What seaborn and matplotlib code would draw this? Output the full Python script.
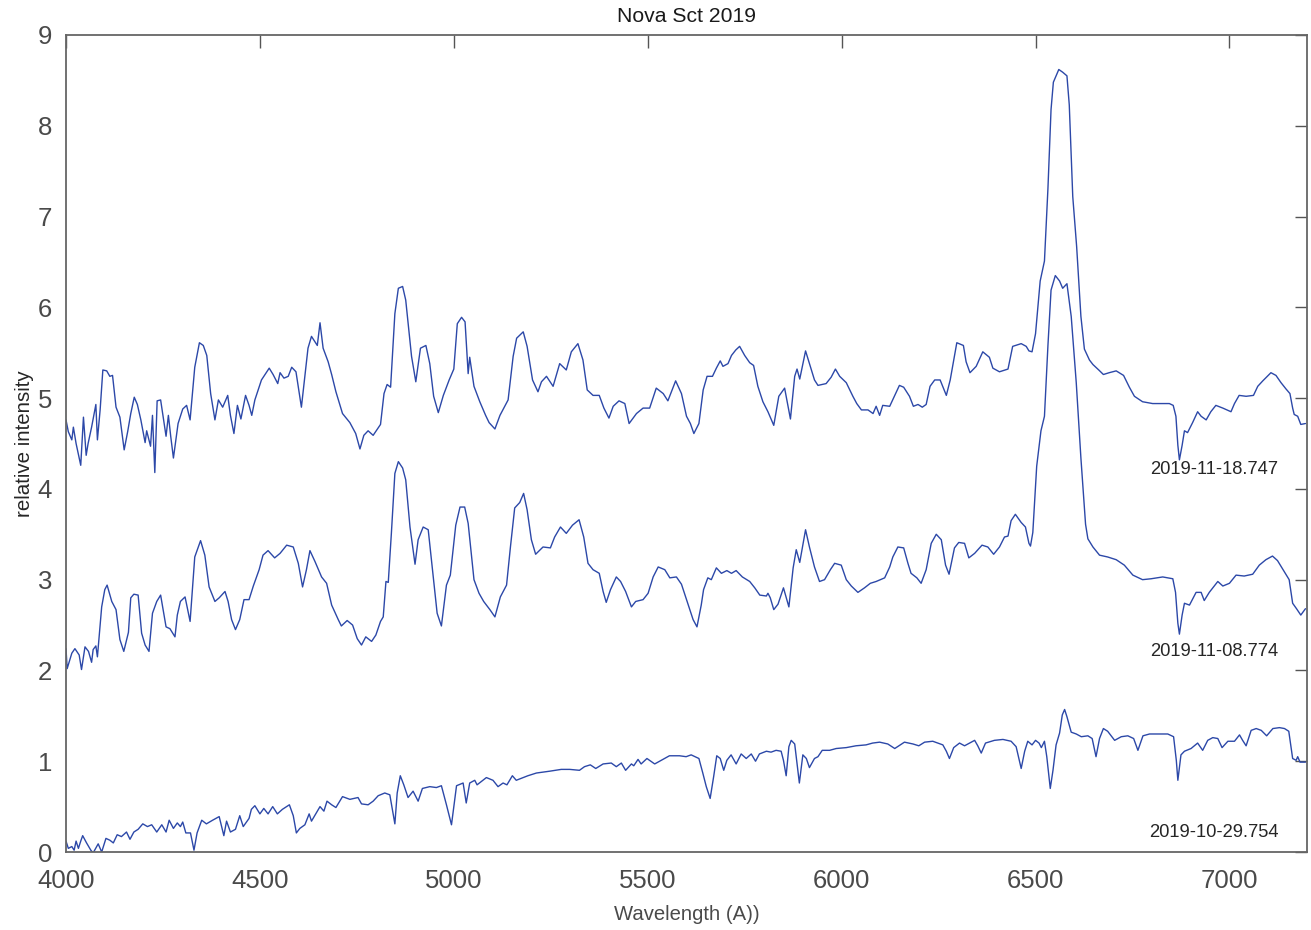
import matplotlib
matplotlib.use("Agg")
import matplotlib.pyplot as plt
import seaborn as sns
import pandas as pd

# ---- Spectrum 2019-11-18.747 (upper) ----
wl_1118 = [4000,4006,4015,4019,4026,4038,4045,4052,4057,4066,4077,4081,4088,4095,4105,4113,4120,4129,4139,4150,
           4159,4167,4176,4184,4193,4204,4208,4218,4223,4229,4235,4244,4258,4264,4270,4277,4289,4301,4311,4320,
           4332,4344,4354,4363,4373,4384,4393,4404,4417,4424,4433,4442,4451,4463,4472,4479,4487,4504,4524,4534,
           4546,4552,4562,4573,4582,4593,4607,4624,4633,4648,4655,4663,4676,4685,4696,4713,4732,4747,4758,4768,
           4779,4792,4811,
           4820,4828,4837,4848,4857,4868,4876,4891,4902,4914,4928,4938,4948,4960,4973,4988,5000,5009,5020,5029,
           5037,5041,5052,5067,5082,5091,5106,5119,5140,5153,5162,5179,5189,5203,5217,5226,5239,5256,5273,5290,
           5303,5320,5333,5344,5359,5375,5387,5400,5411,5426,5441,5452,5471,5488,5505,5522,5540,5552,5572,5587,
           5600,5610,5619,5632,
           5643,5653,5667,5677,5687,5694,5707,5716,5727,5737,5750,5763,5773,5784,5797,5810,5825,5838,5853,5868,
           5879,5885,5892,5907,5917,5930,5939,5960,5973,5984,5995,6012,6029,6039,6051,6068,6081,6089,6098,6106,
           6124,6137,6149,6160,6175,6185,6197,6208,6218,6228,6240,6254,6270,6280,6289,6297,6314,6321,6331,6347,
           6364,6381,6390,6407,6429,6441,6463,6476,6483,
           6491,6500,6512,6523,6532,6540,6546,6560,6570,6581,6587,6596,6606,6617,6626,6639,6648,6663,6675,6690,
           6708,6727,6742,6755,6776,6802,6828,6845,6855,6862,6867,6871,6878,6884,6892,6905,6918,6927,6940,6952,
           6965,6983,7004,7013,7025,7043,7062,7073,7086,7107,7120,7133,7146,7156,7163,7167,7176,7184,7196]
int_1118 = [4.76,4.63,4.54,4.68,4.50,4.26,4.79,4.37,4.50,4.68,4.93,4.54,4.87,5.31,5.30,5.24,5.25,4.90,4.79,4.43,
            4.63,4.83,5.01,4.93,4.76,4.51,4.64,4.47,4.81,4.18,4.97,4.98,4.58,4.81,4.58,4.34,4.72,4.88,4.92,4.76,
            5.34,5.61,5.58,5.47,5.05,4.76,4.98,4.90,5.03,4.81,4.61,4.92,4.77,5.03,4.92,4.81,4.98,5.20,5.33,5.26,
            5.16,5.28,5.22,5.24,5.34,5.29,4.90,5.55,5.68,5.58,5.83,5.55,5.40,5.26,5.07,4.83,4.73,4.61,4.44,4.59,
            4.64,4.59,4.71,
            5.05,5.15,5.12,5.93,6.21,6.23,6.08,5.46,5.18,5.55,5.58,5.38,5.02,4.84,5.03,5.20,5.32,5.82,5.89,5.84,
            5.27,5.45,5.13,4.96,4.81,4.73,4.66,4.81,4.98,5.46,5.66,5.73,5.57,5.20,5.07,5.18,5.24,5.13,5.38,5.31,
            5.51,5.60,5.42,5.09,5.03,5.03,4.89,4.78,4.91,4.97,4.94,4.72,4.83,4.89,4.89,5.11,5.05,4.97,5.19,5.05,
            4.80,4.72,4.61,4.72,
            5.09,5.24,5.24,5.33,5.41,5.35,5.38,5.47,5.53,5.57,5.47,5.39,5.36,5.13,4.96,4.85,4.70,5.02,5.11,4.77,
            5.24,5.32,5.21,5.52,5.38,5.20,5.14,5.16,5.23,5.32,5.24,5.17,5.02,4.94,4.87,4.87,4.83,4.91,4.81,4.92,
            4.91,5.03,5.14,5.12,5.02,4.91,4.93,4.90,4.93,5.13,5.20,5.20,5.03,5.20,5.42,5.61,5.58,5.40,5.28,5.35,
            5.51,5.45,5.33,5.29,5.32,5.57,5.60,5.57,5.52,
            5.51,5.71,6.29,6.51,7.31,8.18,8.48,8.62,8.59,8.55,8.23,7.22,6.67,5.90,5.54,5.42,5.37,5.31,5.26,5.28,
            5.30,5.25,5.12,5.02,4.96,4.94,4.94,4.94,4.92,4.80,4.48,4.32,4.48,4.64,4.62,4.73,4.85,4.80,4.76,4.85,
            4.92,4.89,4.85,4.94,5.03,5.02,5.03,5.13,5.19,5.28,5.25,5.17,5.10,5.05,4.89,4.82,4.80,4.71,4.72]

# ---- Spectrum 2019-11-08.774 (middle) ----
wl_1108 = [4000,4003,4015,4023,4034,4040,4049,4058,4066,4070,4077,4081,4092,4100,4106,4118,4129,4139,4149,4161,
           4167,4175,4186,4195,4204,4214,4223,4234,4244,4258,4268,4281,4287,4295,4307,4320,4332,4347,4358,4369,
           4384,4395,4410,4418,4427,4437,4448,4459,4472,4483,4498,4508,4521,4538,4552,4569,4586,4599,4610,4620,
           4629,4642,4659,4672,4685,4702,4710,4725,4739,4751,4762,4773,4788,4799,4811,
           4818,4825,4831,4839,4848,4857,4868,4876,4887,4900,4908,4921,4934,4945,4957,4968,4981,4991,5005,5016,
           5028,5037,5052,5065,5077,5093,5106,5120,5136,5146,5157,5170,5180,5189,5200,5211,5230,5249,5260,5275,
           5290,5306,5323,5335,5346,5359,5375,5385,5393,5404,5419,5430,5443,5458,5469,5488,5501,5514,5527,5544,
           5557,5574,5587,5604,5617,5627,5638,
           5644,5655,5664,5677,5690,5704,5716,5728,5744,5763,5776,5789,5806,5810,5816,5825,5836,5850,5864,5875,
           5883,5892,5907,5917,5930,5943,5956,5971,5982,5999,6012,6025,6042,6059,6074,6089,6111,6124,6132,6145,
           6160,6171,6179,6194,6205,6218,6231,6244,6257,6268,6277,6291,6302,6317,6328,6343,6362,6377,6392,6407,
           6420,6429,6437,6448,6463,6474,6483,
           6487,6493,6503,6514,6523,6532,6540,6551,6562,6570,6581,6592,6605,6617,6629,6635,6648,6665,6686,6708,
           6729,6751,6776,6798,6828,6854,6861,6867,6871,6878,6884,6897,6914,6927,6935,6948,6970,6983,7000,7017,
           7038,7060,7077,7094,7111,7124,7141,7154,7163,7173,7184,7196]
int_1108 = [2.24,2.02,2.19,2.24,2.17,2.01,2.26,2.21,2.09,2.23,2.27,2.15,2.70,2.89,2.94,2.76,2.67,2.34,2.21,2.42,
            2.80,2.84,2.83,2.41,2.28,2.21,2.63,2.76,2.83,2.48,2.46,2.37,2.61,2.76,2.81,2.54,3.25,3.43,3.27,2.92,
            2.76,2.80,2.87,2.76,2.56,2.45,2.56,2.78,2.78,2.93,3.11,3.27,3.32,3.24,3.29,3.38,3.36,3.18,2.92,3.11,
            3.32,3.20,3.03,2.96,2.72,2.56,2.49,2.55,2.50,2.35,2.28,2.37,2.32,2.39,2.54,
            2.59,2.98,2.97,3.51,4.17,4.30,4.23,4.10,3.58,3.17,3.44,3.58,3.55,3.11,2.63,2.49,2.94,3.05,3.60,3.80,
            3.80,3.62,3.00,2.85,2.76,2.67,2.59,2.81,2.94,3.36,3.79,3.85,3.95,3.77,3.44,3.28,3.36,3.35,3.47,3.58,
            3.51,3.60,3.66,3.47,3.18,3.11,3.07,2.87,2.75,2.89,3.03,2.98,2.87,2.70,2.76,2.78,2.85,3.03,3.14,3.11,
            3.02,3.03,2.95,2.73,2.56,2.48,2.72,
            2.89,3.02,3.00,3.13,3.07,3.10,3.07,3.10,3.03,2.98,2.91,2.83,2.82,2.85,2.80,2.67,2.73,2.91,2.70,3.13,
            3.33,3.19,3.55,3.36,3.14,2.98,3.00,3.11,3.18,3.16,3.00,2.93,2.86,2.91,2.96,2.98,3.02,3.14,3.25,3.36,
            3.35,3.18,3.07,3.02,2.96,3.11,3.40,3.50,3.44,3.16,3.06,3.35,3.41,3.40,3.24,3.29,3.38,3.36,3.28,3.36,
            3.47,3.48,3.65,3.72,3.63,3.58,3.40,
            3.37,3.52,4.25,4.64,4.80,5.58,6.19,6.35,6.29,6.21,6.26,5.90,5.17,4.34,3.61,3.45,3.36,3.27,3.25,3.22,
            3.16,3.05,3.00,3.01,3.03,3.01,2.86,2.52,2.40,2.61,2.74,2.72,2.86,2.86,2.77,2.86,2.98,2.93,2.96,3.05,
            3.04,3.06,3.16,3.22,3.26,3.21,3.09,3.00,2.74,2.68,2.61,2.68]

# ---- Spectrum 2019-10-29.754 (bottom) ----
wl_1029 = [4000,4006,4015,4021,4026,4032,4038,4043,4053,4064,4070,4083,4092,4103,4113,4122,4132,4143,4156,4165,
           4175,4186,4198,4210,4221,4234,4247,4258,4266,4277,4287,4295,4301,4309,4321,4330,4338,4350,4362,4378,
           4395,4407,4414,4424,4437,4448,4457,4472,4478,4487,4500,4510,4521,4533,4545,4558,4576,4586,4594,4603,
           4616,4627,4633,4644,4655,4665,4673,4685,4696,4713,4732,4753,4762,4779,4792,4805,4822,4835,4848,4854,
           4862,4871,4882,4895,4908,4919,4938,4955,4968,4981,4994,5007,5024,5032,5041,5054,
           5060,5084,5101,5114,5127,5137,5151,5161,5191,5213,5247,5277,5299,5324,5337,5352,5366,5385,5406,5419,
           5432,5443,5458,5464,5475,5483,5498,5518,5535,5556,5582,5599,5612,5632,5642,5651,5661,5670,5678,5687,
           5696,5704,5715,5728,5741,5754,5767,5778,5788,5806,5818,5831,5844,5850,5857,5864,5870,5879,5885,5891,
           5900,5909,5917,5930,5939,5950,5969,5986,6012,6037,6063,6080,6098,
           6119,6137,6162,6184,6199,6214,6235,6261,6270,6278,6289,6304,6317,6343,6351,6360,6371,6394,6416,6437,
           6450,6463,6472,6480,6491,6500,6509,6515,6523,6529,6538,6545,6553,6562,6569,6575,6581,6592,6605,6618,
           6635,6646,6656,6665,6675,6686,6704,6721,6738,6753,6764,6777,6794,6820,6841,6856,6863,6867,6875,6884,
           6901,6918,6931,6944,6957,6970,6981,6996,7013,7026,7034,7043,7056,7069,7082,7096,7112,7129,7142,7153,
           7163,7172,7176,7182,7196]
int_1029 = [0.12,0.04,0.06,0.02,0.12,0.04,0.12,0.18,0.10,0.02,-0.01,0.09,0.00,0.15,0.13,0.10,0.19,0.17,0.22,0.14,
            0.22,0.25,0.31,0.28,0.30,0.22,0.30,0.22,0.35,0.26,0.32,0.28,0.33,0.21,0.21,0.02,0.21,0.35,0.31,0.35,
            0.39,0.18,0.34,0.22,0.25,0.40,0.28,0.37,0.47,0.51,0.42,0.48,0.42,0.50,0.42,0.47,0.52,0.40,0.21,0.26,
            0.30,0.42,0.34,0.42,0.50,0.45,0.56,0.52,0.49,0.61,0.58,0.60,0.53,0.52,0.56,0.62,0.65,0.63,0.31,0.65,
            0.84,0.74,0.60,0.67,0.56,0.70,0.72,0.71,0.73,0.52,0.30,0.73,0.76,0.54,0.76,0.79,
            0.74,0.82,0.79,0.72,0.76,0.74,0.84,0.79,0.84,0.87,0.89,0.91,0.91,0.90,0.94,0.96,0.92,0.97,0.98,0.94,
            0.98,0.90,0.97,0.95,1.02,0.97,1.03,0.97,1.01,1.06,1.06,1.05,1.07,1.03,0.87,0.72,0.59,0.83,1.06,1.03,
            0.90,1.01,1.07,0.97,1.08,1.03,1.08,1.00,1.08,1.11,1.10,1.12,1.11,1.01,0.84,1.16,1.23,1.19,0.98,0.76,
            1.07,1.03,0.93,1.03,1.05,1.12,1.12,1.14,1.15,1.17,1.18,1.20,1.21,
            1.19,1.14,1.21,1.19,1.17,1.21,1.22,1.18,1.11,1.03,1.15,1.20,1.17,1.23,1.17,1.09,1.20,1.23,1.24,1.22,
            1.16,0.92,1.11,1.22,1.18,1.23,1.20,1.15,1.22,1.05,0.70,0.90,1.18,1.31,1.51,1.57,1.49,1.32,1.30,1.27,
            1.28,1.25,1.05,1.25,1.36,1.33,1.23,1.27,1.28,1.25,1.12,1.28,1.30,1.30,1.30,1.27,1.01,0.79,1.07,1.11,
            1.14,1.20,1.12,1.23,1.26,1.25,1.15,1.22,1.22,1.29,1.23,1.17,1.34,1.36,1.34,1.28,1.36,1.37,1.36,1.33,
            1.03,1.01,1.05,0.99,0.99]

labels = ["2019-11-18.747", "2019-11-08.774", "2019-10-29.754"]
label_pos_wl = [6960, 6960, 6960]
label_pos_int = [4.21, 2.21, 0.21]

x_ticks = [4000, 4500, 5000, 5500, 6000, 6500, 7000]
y_ticks = [0, 1, 2, 3, 4, 5, 6, 7, 8, 9]

frames = []
for lab, wl, it in zip(labels, [wl_1118, wl_1108, wl_1029], [int_1118, int_1108, int_1029]):
    frames.append(pd.DataFrame({"wl": wl, "inten": it, "date": lab}))
df = pd.concat(frames, ignore_index=True)

sns.set_theme(style="white")
plt.rcParams["font.family"] = ["Liberation Sans", "DejaVu Sans"]

fig = plt.figure(figsize=(13.11, 9.30), dpi=100)
ax = fig.add_axes([66/1311, 1 - 852/930, (1307-66)/1311, (852-35)/930])

line_color = "#2c48a8"
sns.lineplot(data=df, x="wl", y="inten", units="date", estimator=None, sort=False,
             color=line_color, linewidth=1.0, ax=ax, legend=False)

for lab, xw, yi in zip(labels, label_pos_wl, label_pos_int):
    ax.text(xw, yi, lab, ha="center", va="center", fontsize=13.2, color="#262626")

ax.set_xlim(4000, 7200)
ax.set_ylim(0, 9)
ax.set_xticks(x_ticks)
ax.set_yticks(y_ticks)
ax.tick_params(direction="in", length=9, width=1.0, colors="#555555", labelcolor="#4a4a4a",
               labelsize=18.5, top=True, right=True, pad=10)
ax.tick_params(axis="x", pad=12)
for sp in ax.spines.values():
    sp.set_color("#666666")
    sp.set_linewidth(1.3)
ax.set_xlabel("Wavelength (A))", fontsize=14.6, color="#4a4a4a", labelpad=9)
ax.set_ylabel("relative intensity", fontsize=14.8, color="#262626", labelpad=3)
ax.set_title("Nova Sct 2019", fontsize=15.2, color="#1a1a1a", pad=9)

fig.savefig("out.png", dpi=100)
